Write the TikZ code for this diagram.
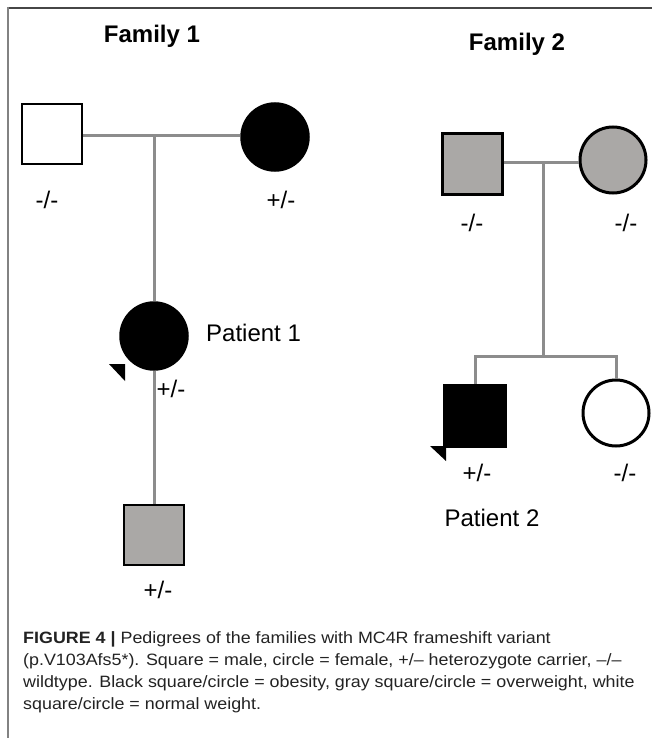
\documentclass[tikz,border=0pt]{standalone}
\usepackage{fontspec}
\setmainfont{Liberation Sans}
\newfontfamily\capfont[FakeStretch=1.09]{Liberation Sans}
\definecolor{linegray}{RGB}{140,140,140}
\definecolor{fillgray}{RGB}{170,168,166}
\definecolor{captxt}{RGB}{35,35,35}
\begin{document}
\begin{tikzpicture}[x=1pt,y=-1pt,
  male/.style={draw=black,line width=2.5pt,rectangle,minimum size=#1,inner sep=0pt},
  female/.style={draw=black,line width=2.5pt,circle,minimum size=#1,inner sep=0pt},
  link/.style={draw=linegray,line width=3pt},
  lbl/.style={font=\fontsize{24}{28}\selectfont,inner sep=0pt},
  famtitle/.style={font=\fontsize{24}{28}\selectfont\bfseries,inner sep=0pt},
  captext/.style={font=\capfont\fontsize{16.4}{20}\selectfont,text=captxt,inner sep=0pt,anchor=base west},
  proband/.style={fill=black}]
\useasboundingbox (0,0) rectangle (652,738);
\fill[white] (0,0) rectangle (652,738);
% frame
\draw[draw={rgb,255:red,70;green,70;blue,70},line width=2pt] (7,8) -- (652,8);
\draw[draw={rgb,255:red,130;green,130;blue,130},line width=2pt] (8,7) -- (8,738);

% titles
\node[famtitle] (t1) at (152,36) {Family 1};
\node[famtitle] (t2) at (517,44) {Family 2};

% Family 1
\node[male=60pt,fill=white,line width=2.2pt] (f1) at (52,134) {};
\node[female=67pt,fill=black] (m1) at (275,137) {};
\coordinate (u1) at (154,136);
\node[female=67pt,fill=black] (p1) at (154,336) {};
\node[male=60pt,fill=fillgray] (c1) at (154,535) {};
\draw[link] (f1.east |- u1) -- (m1.west |- u1);
\draw[link] (u1) -- (p1.north);
\draw[link] (p1.south) -- (c1.north);
\fill[proband] (109,364) -- (125,364) -- (125,381) -- cycle;

\node[lbl] (lf1) at (47,200) {-/-};
\node[lbl] (lm1) at (281,200) {+/-};
\node[lbl,anchor=west] (pt1) at (206,333) {Patient 1};
\node[lbl] (lp1) at (171,389) {+/-};
\node[lbl] (lc1) at (158,590) {+/-};

% Family 2
\node[male=60pt,fill=fillgray,line width=3pt] (f2) at (472,164) {};
\node[female=66pt,fill=fillgray,line width=3pt] (m2) at (613,160) {};
\coordinate (u2) at (543,163);
\coordinate (s2) at (543,356);
\node[male=62pt,fill=black] (p2) at (475,416) {};
\node[female=66pt,fill=white,line width=3pt] (d2) at (616,413) {};
\draw[link] (f2.east |- u2) -- (m2.west |- u2);
\draw[link] (u2) -- (s2);
\draw[link] (p2.north) |- (s2) -| (d2.north);
\fill[proband] (430,446) -- (446,446) -- (446,461) -- cycle;

\node[lbl] (lf2) at (472,223) {-/-};
\node[lbl] (lm2) at (626,223) {-/-};
\node[lbl] (lp2) at (477,473) {+/-};
\node[lbl] (ld2) at (625,473) {-/-};
\node[lbl] (pt2) at (492,518) {Patient 2};

% caption
\node[captext] (cap1) at (23,643) {\textbf{FIGURE 4 |} Pedigrees of the families with MC4R frameshift variant};
\node[captext] (cap2) at (23,665) {(p.V103Afs5*). Square = male, circle = female, +/– heterozygote carrier, –/–};
\node[captext] (cap3) at (23,687) {wildtype. Black square/circle = obesity, gray square/circle = overweight, white};
\node[captext] (cap4) at (23,709) {square/circle = normal weight.};
\end{tikzpicture}
\end{document}
